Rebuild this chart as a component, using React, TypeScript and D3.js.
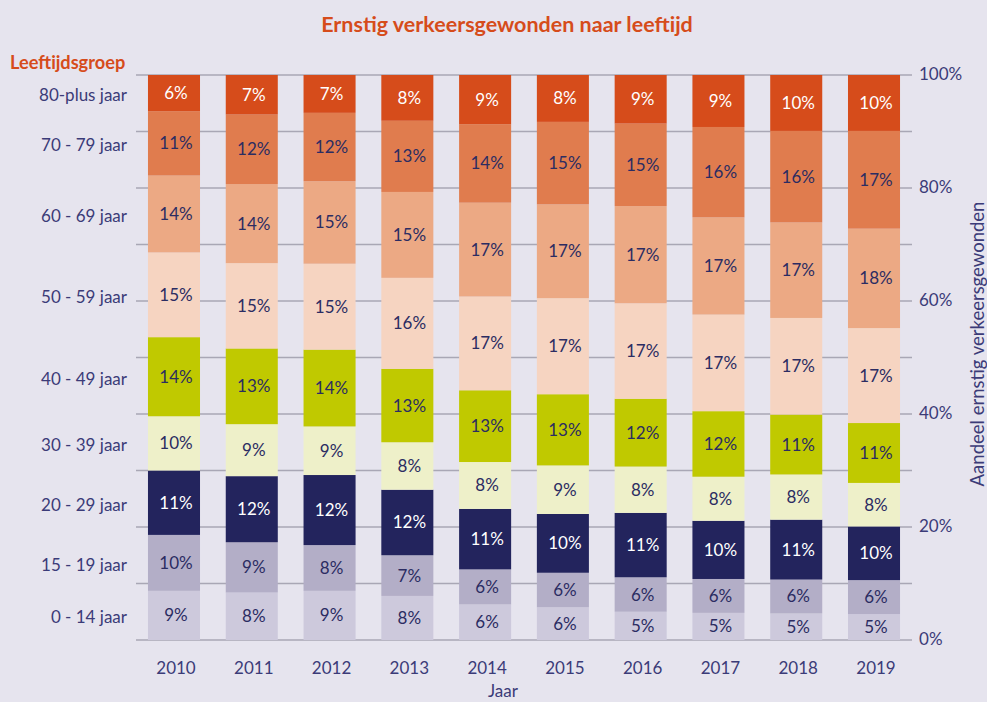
import React from "react";
import * as d3 from "d3";

const years = ["2010", "2011", "2012", "2013", "2014", "2015", "2016", "2017", "2018", "2019"];
const ageGroups = [
  "0 - 14 jaar",
  "15 - 19 jaar",
  "20 - 29 jaar",
  "30 - 39 jaar",
  "40 - 49 jaar",
  "50 - 59 jaar",
  "60 - 69 jaar",
  "70 - 79 jaar",
  "80-plus jaar",
];

// shares (%) per age group, per year 2010..2019
const age0_14 = [8.7, 8.4, 8.7, 7.8, 6.3, 5.8, 5.0, 4.8, 4.7, 4.6];
const age15_19 = [9.9, 8.9, 8.1, 7.2, 6.2, 6.1, 6.1, 6.0, 6.0, 6.0];
const age20_29 = [11.4, 11.7, 12.4, 11.6, 10.7, 10.4, 11.4, 10.3, 10.6, 9.5];
const age30_39 = [9.6, 9.2, 8.6, 8.4, 8.3, 8.6, 8.2, 7.8, 8.0, 7.7];
const age40_49 = [14.0, 13.4, 13.6, 13.0, 12.7, 12.6, 12.0, 11.6, 10.6, 10.6];
const age50_59 = [15.0, 15.1, 15.2, 16.1, 16.6, 17.0, 16.9, 17.1, 17.1, 16.8];
const age60_69 = [13.6, 14.0, 14.6, 15.2, 16.6, 16.6, 17.2, 17.2, 16.9, 17.6];
const age70_79 = [11.4, 12.3, 12.1, 12.6, 13.9, 14.6, 14.6, 16.0, 16.2, 17.3];
const age80plus = [6.4, 7.0, 6.7, 8.1, 8.7, 8.3, 8.6, 9.2, 9.9, 9.9];

const seriesValues = [age0_14, age15_19, age20_29, age30_39, age40_49, age50_59, age60_69, age70_79, age80plus];

const yTicks = [0, 10, 20, 30, 40, 50, 60, 70, 80, 90, 100];
const yTickLabels = [0, 20, 40, 60, 80, 100];

const colors = ["#cdc9dc", "#b3aec7", "#23245d", "#eef0c9", "#c0c900", "#f6d4c1", "#eca984", "#e07c4e", "#d64c1b"];
const labelColors = ["#2b2c62", "#2b2c62", "#ffffff", "#2b2c62", "#2b2c62", "#2b2c62", "#2b2c62", "#2b2c62", "#ffffff"];

const W = 987;
const H = 702;
const FONT = "Lato, 'Open Sans', sans-serif";
const TEXT = "#3b3b78";
const ORANGE = "#d64c1b";

export default function App() {
  const rows = years.map((y, i) => {
    const r: any = { year: y };
    ageGroups.forEach((g, k) => (r[g] = seriesValues[k][i]));
    return r;
  });
  const stack = d3.stack<any>().keys(ageGroups);
  const series = stack(rows);

  const x = d3.scaleBand<string>().domain(years).range([136, 912]).paddingInner(0.331).paddingOuter(0.154);
  const y = d3.scaleLinear().domain([0, 100]).range([640, 75]);

  return (
    <svg width={W} height={H} style={{ position: "absolute", left: 0, top: 0, background: "#e6e4ee" }}>
      <rect x={0} y={0} width={W} height={H} fill="#e6e4ee" />
      <text x={507} y={32} textAnchor="middle" fontFamily={FONT} fontWeight="bold" fontSize={21.5} fill={ORANGE}>
        Ernstig verkeersgewonden naar leeftijd
      </text>
      <text x={10} y={69} fontFamily={FONT} fontWeight="bold" fontSize={18.2} fill={ORANGE}>
        Leeftijdsgroep
      </text>
      {yTicks.map((t) => (
        <line key={t} x1={136} x2={912} y1={y(t)} y2={y(t)} stroke="#a9a7b5" strokeWidth={1.5} />
      ))}
      {yTickLabels.map((t) => (
        <text key={t} x={919} y={y(t) + 5} fontFamily={FONT} fontSize={17} fill={TEXT}>
          {t}%
        </text>
      ))}
      <text
        transform={`translate(984,344) rotate(-90)`}
        textAnchor="middle"
        fontFamily={FONT}
        fontSize={18.5}
        fill={TEXT}
      >
        Aandeel ernstig verkeersgewonden
      </text>
      {series.map((s, k) => (
        <g key={ageGroups[k]}>
          {s.map((d, i) => (
            <rect
              key={years[i]}
              x={x(years[i])}
              width={x.bandwidth()}
              y={y(d[1])}
              height={y(d[0]) - y(d[1])}
              fill={colors[k]}
            />
          ))}
          {s.map((d, i) => (
            <text
              key={"l" + years[i]}
              x={(x(years[i]) as number) + x.bandwidth() / 2 + 2}
              y={(y(d[0]) + y(d[1])) / 2 + 6}
              textAnchor="middle"
              fontFamily={FONT}
              fontSize={17}
              fill={labelColors[k]}
            >
              {Math.round(seriesValues[k][i])}%
            </text>
          ))}
        </g>
      ))}
      {series.map((s, k) => {
        const d = s[0];
        return (
          <text
            key={"cat" + k}
            x={127}
            y={(y(d[0]) + y(d[1])) / 2 + 8}
            textAnchor="end"
            fontFamily={FONT}
            fontSize={17}
            fill={TEXT}
          >
            {ageGroups[k]}
          </text>
        );
      })}
      {years.map((yr) => (
        <text
          key={yr}
          x={(x(yr) as number) + x.bandwidth() / 2 + 2}
          y={674}
          textAnchor="middle"
          fontFamily={FONT}
          fontSize={17}
          fill={TEXT}
        >
          {yr}
        </text>
      ))}
      <text x={503} y={697} textAnchor="middle" fontFamily={FONT} fontSize={17} fill={TEXT}>
        Jaar
      </text>
    </svg>
  );
}
